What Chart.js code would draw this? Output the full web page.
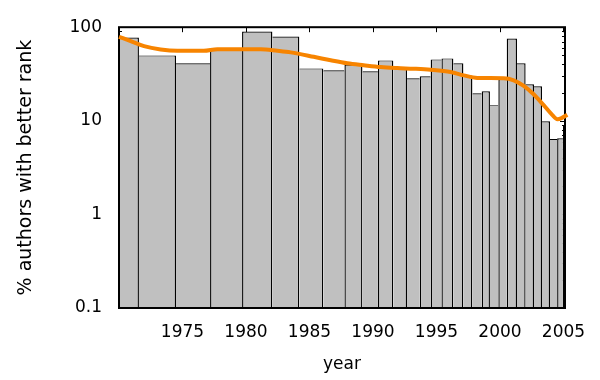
<!DOCTYPE html>
<html>
<head>
<meta charset="utf-8">
<script src="https://cdn.jsdelivr.net/npm/chart.js@4"></script>
<style>
  html, body { margin: 0; padding: 0; background: #fff; }
  #wrap { width: 600px; height: 380px; }
</style>
</head>
<body>
<div id="wrap"><canvas id="c" width="600" height="380"></canvas></div>
<script>
// Bin centres (year) of the boxes; box edges fall half-way between neighbours
const years = [1970.29, 1972.85, 1976.13, 1978.21, 1981.17, 1982.99, 1985.41, 1986.77,
  1988.73, 1989.61, 1991.17, 1992.03, 1993.33, 1994.03, 1995.05, 1995.73, 1996.93,
  1997.31, 1998.35, 1998.77, 1999.65, 2000.09, 2000.97, 2001.71, 2002.33, 2003.03,
  2003.59, 2004.29, 2004.71, 2005.21];
// % authors with better rank (bar heights)
const rates = [77.7, 50.0, 41.1, 57, 90, 79.6, 36.3, 34.6, 40, 33.8, 44.2, 37, 28.5,
  29.9, 45.3, 46.4, 41.1, 30.5, 19.7, 20.7, 14.7, 28, 75.8, 41.1, 24.6, 23.4, 9.9,
  6.4, 6.5, 8.8];
// smoothed trend (orange)
const trendYears = [1970, 1970.92, 1971.97, 1973.28, 1974.6, 1976.67, 1977.75, 1981.16,
  1982.47, 1983.52, 1985.33, 1986.67, 1987.98, 1989.27, 1990.61, 1991.92, 1993.2,
  1994.54, 1996.12, 1997.14, 1998.22, 2000.29, 2001.08, 2001.87, 2002.65, 2003.44,
  2004.13, 2004.52, 2004.91, 2005.3];
const trendValues = [79, 71, 62.8, 57.9, 56, 56, 58.3, 58.3, 56, 53.8, 48.3, 44.3, 41.1,
  39.2, 37.5, 36.6, 36, 35.1, 33.2, 30.6, 28.7, 28.5, 27.1, 23.6, 19.2, 14.7, 11.5,
  10.4, 10.8, 11.6];
// axis ticks
const xTicks = [1975, 1980, 1985, 1990, 1995, 2000, 2005];
const yTicks = [0.1, 1, 10, 100];
const yTickLabels = ['0.1', '1', '10', '100'];
const xRange = [1970, 2005.12];

Chart.defaults.font.family = "'DejaVu Sans', sans-serif";
Chart.defaults.font.size = 17;
Chart.defaults.color = '#000';

const n = rates.length;
function barBorder(ctx) {
  if (ctx.type !== 'data') return 1;
  const i = ctx.dataIndex;
  const cur = rates[i];
  const left = (i === 0 || rates[i - 1] <= cur) ? 1.4 : 0;
  const right = (i === n - 1 || rates[i + 1] < cur) ? 1.4 : 0;
  return { top: 1.2, left: left, right: right, bottom: 0 };
}

const framePlugin = {
  id: 'framePlugin',
  beforeDatasetsDraw(chart) {
    const { ctx, chartArea: a, scales: { x, y } } = chart;
    ctx.save();
    ctx.strokeStyle = '#000';
    ctx.lineWidth = 1;
    ctx.beginPath();
    xTicks.forEach(v => {
      const px = Math.round(x.getPixelForValue(v)) + 0.5;
      ctx.moveTo(px, a.bottom); ctx.lineTo(px, a.bottom - 5);
      ctx.moveTo(px, a.top); ctx.lineTo(px, a.top + 5);
    });
    yTicks.forEach((v, k) => {
      const mults = k < yTicks.length - 1 ? [1, 2, 3, 4, 5, 6, 7, 8, 9] : [1];
      mults.forEach(m => {
        const py = Math.round(y.getPixelForValue(v * m)) + 0.5;
        const len = m === 1 ? 5 : 3;
        ctx.moveTo(a.left, py); ctx.lineTo(a.left + len, py);
        ctx.moveTo(a.right, py); ctx.lineTo(a.right - len, py);
      });
    });
    ctx.stroke();
    ctx.restore();
  },
  afterDatasetDraw(chart, args) {
    if (args.meta.type !== 'bar') return;
    const { ctx, chartArea: a } = chart;
    ctx.save();
    ctx.strokeStyle = '#000';
    ctx.lineWidth = 2;
    ctx.strokeRect(a.left, a.top, a.right - a.left, a.bottom - a.top);
    ctx.restore();
  }
};

new Chart(document.getElementById('c'), {
  type: 'bar',
  data: {
    datasets: [
      {
        type: 'bar',
        order: 1,
        data: years.map((x, i) => ({ x: x, y: rates[i] })),
        backgroundColor: '#c0c0c0',
        borderColor: '#000',
        borderWidth: barBorder,
        barThickness: 'flex',
        categoryPercentage: 1,
        barPercentage: 1,
        inflateAmount: 0
      },
      {
        type: 'line',
        order: 0,
        data: trendYears.map((x, i) => ({ x: x, y: trendValues[i] })),
        borderColor: '#f78400',
        borderWidth: 4,
        pointRadius: 0,
        fill: false,
        cubicInterpolationMode: 'monotone',
        clip: { left: 3, right: 4, top: 3, bottom: 3 }
      }
    ]
  },
  options: {
    responsive: false,
    animation: false,
    devicePixelRatio: 1,
    layout: { padding: { top: 26, right: 35, bottom: 0, left: 0 } },
    plugins: { legend: { display: false }, tooltip: { enabled: false } },
    scales: {
      x: {
        type: 'linear',
        offset: false,
        min: xRange[0],
        max: xRange[1],
        grid: { display: false, drawTicks: false },
        border: { display: false },
        afterBuildTicks: s => { s.ticks = xTicks.map(v => ({ value: v })); },
        afterFit: s => { s.height = 72; },
        ticks: { padding: 14, maxRotation: 0, autoSkip: false, callback: v => String(v) },
        title: { display: true, text: 'year', padding: { top: 0, bottom: 5 } }
      },
      y: {
        type: 'logarithmic',
        min: 0.1,
        max: 100,
        grid: { display: false, drawTicks: false },
        border: { display: false },
        afterBuildTicks: s => { s.ticks = yTicks.map(v => ({ value: v })); },
        afterFit: s => { s.width = 119; },
        ticks: { padding: 17, autoSkip: false, callback: v => yTickLabels[yTicks.indexOf(v)] ?? '' },
        title: { display: true, text: '% authors with better rank', font: { size: 19 }, padding: { top: 15, bottom: 0 } }
      }
    }
  },
  plugins: [framePlugin]
});
</script>
</body>
</html>
